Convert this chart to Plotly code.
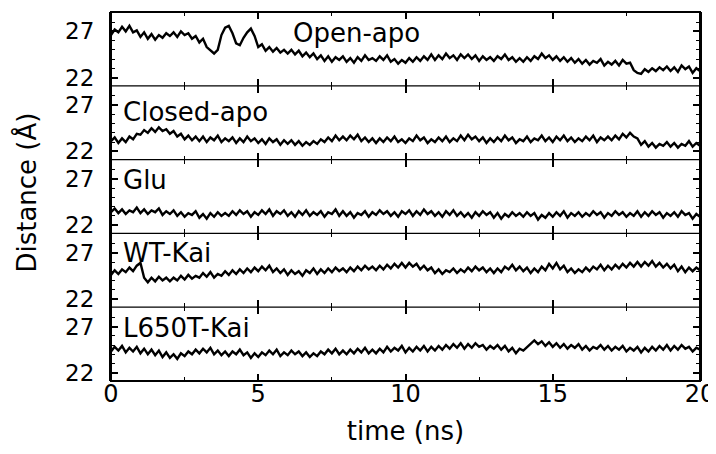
import plotly.graph_objects as go
from plotly.subplots import make_subplots

# sampling grid (ns), 0.125 ns steps
time_ns = [i * 0.125 for i in range(161)]

panel_names = ["Open-apo", "Closed-apo", "Glu", "WT-Kai", "L650T-Kai"]

open_apo = [
    26.6, 27.2, 26.9, 27.5, 27.0, 27.6, 26.9, 27.1,
    26.4, 26.9, 26.2, 26.7, 26.1, 26.6, 26.3, 26.8,
    26.5, 26.9, 26.4, 27.0, 26.6, 26.8, 26.2, 26.5,
    25.8, 26.2, 25.3, 25.0, 24.6, 25.0, 26.6, 27.4,
    27.6, 26.8, 25.7, 25.5, 26.3, 26.9, 27.3, 26.5,
    25.3, 25.6, 24.9, 25.3, 24.8, 25.2, 24.7, 25.0,
    24.6, 25.0, 24.5, 24.9, 24.3, 24.7, 24.2, 24.6,
    24.0, 24.4, 23.8, 24.3, 23.7, 24.2, 23.9, 24.3,
    23.7, 24.1, 23.6, 24.2, 23.8, 24.4, 23.9, 24.1,
    23.8, 24.3, 23.9, 24.4, 23.7, 24.0, 23.5, 23.9,
    23.6, 24.1, 23.7, 24.2, 23.8, 24.3, 23.9, 24.5,
    23.9, 24.4, 24.0, 24.6, 24.1, 24.4, 23.9, 24.5,
    24.1, 24.5, 24.0, 24.4, 23.8, 24.3, 23.9, 24.2,
    23.8, 24.3, 24.0, 24.5, 23.9, 24.2, 23.7, 24.1,
    23.7, 24.2, 23.8, 24.3, 24.0, 24.6, 24.1, 24.4,
    23.9, 24.3, 23.8, 24.2, 23.7, 24.1, 23.6, 24.0,
    23.5, 23.9, 23.4, 23.8, 23.6, 24.0, 23.3, 23.7,
    23.4, 23.8, 23.3, 23.9, 23.5, 23.6, 22.8, 22.5,
    22.4, 22.9, 22.6, 23.0, 22.7, 23.1, 22.8, 23.2,
    22.7, 23.1, 22.6, 23.3, 22.9, 23.2, 22.5, 23.0,
    22.7,
]

closed_apo = [
    23.1, 23.5, 22.9, 23.4, 23.0, 23.6, 23.3, 23.9,
    23.8, 24.3, 24.0, 24.5, 24.1, 24.6, 24.2, 24.4,
    23.9, 24.2, 23.6, 23.9, 23.3, 23.7, 23.2, 23.6,
    23.1, 23.6, 23.0, 23.5, 23.2, 23.7, 23.0, 23.4,
    23.1, 23.5, 22.9, 23.4, 23.0, 23.6, 23.1, 23.4,
    22.9, 23.3, 22.8, 23.4, 23.0, 23.3, 22.7, 23.2,
    22.8, 23.2, 22.7, 23.1, 22.6, 23.0, 22.7, 23.1,
    22.8, 23.3, 23.0, 23.5, 23.1, 23.7, 23.2, 23.6,
    23.2, 23.7, 23.3, 23.8, 23.1, 23.5, 23.0, 23.4,
    22.9, 23.4, 23.0, 23.5, 23.1, 23.6, 23.0, 23.3,
    22.9, 23.4, 23.1, 23.7, 23.2, 23.5, 22.9, 23.3,
    23.0, 23.5, 23.1, 23.6, 23.0, 23.4, 23.1, 23.7,
    23.2, 23.8, 23.3, 23.6, 23.1, 23.5, 22.9, 23.4,
    23.0, 23.5, 23.1, 23.7, 23.2, 23.5, 22.9, 23.3,
    23.1, 23.6, 23.0, 23.4, 23.2, 23.7, 23.1, 23.5,
    23.0, 23.6, 23.2, 23.7, 23.1, 23.5, 23.0, 23.4,
    23.1, 23.6, 23.2, 23.7, 23.0, 23.5, 23.2, 23.6,
    23.2, 23.7, 23.3, 23.9, 23.5, 24.0, 23.6, 23.4,
    22.7, 23.1, 22.5, 22.9, 22.4, 22.8, 22.6, 23.0,
    22.5, 22.9, 22.4, 22.8, 22.6, 23.1, 22.5, 22.9,
    22.6,
]

glu = [
    23.4, 23.8, 23.3, 23.7, 23.2, 23.6, 23.4, 23.9,
    23.3, 23.7, 23.2, 23.6, 23.4, 23.8, 23.1, 23.5,
    23.2, 23.6, 23.0, 23.4, 22.9, 23.3, 23.1, 23.5,
    22.8, 23.2, 22.7, 23.3, 22.9, 23.4, 23.0, 23.3,
    23.0, 23.5, 23.1, 23.6, 23.2, 23.5, 22.9, 23.4,
    23.1, 23.6, 23.2, 23.7, 23.0, 23.5, 23.2, 23.6,
    23.0, 23.4, 22.9, 23.5, 23.1, 23.6, 23.0, 23.4,
    23.1, 23.5, 22.9, 23.4, 23.2, 23.7, 23.0, 23.5,
    23.0, 23.4, 22.8, 23.3, 23.1, 23.5, 22.9, 23.4,
    23.1, 23.6, 23.2, 23.5, 23.0, 23.4, 22.9, 23.5,
    23.2, 23.6, 23.0, 23.5, 23.1, 23.7, 23.2, 23.5,
    23.0, 23.4, 22.9, 23.5, 23.1, 23.6, 23.0, 23.4,
    22.9, 23.3, 22.8, 23.4, 23.0, 23.5, 23.1, 23.4,
    22.8, 23.3, 22.7, 23.2, 22.9, 23.4, 23.0, 23.3,
    22.9, 23.4, 23.0, 23.3, 22.6, 23.1, 22.8, 23.3,
    22.9, 23.4, 23.0, 23.5, 22.8, 23.3, 23.0, 23.4,
    22.9, 23.3, 23.0, 23.5, 23.1, 23.4, 22.8, 23.3,
    23.0, 23.5, 23.1, 23.4, 22.9, 23.3, 23.0, 23.5,
    22.9, 23.4, 23.0, 23.5, 23.1, 23.4, 22.8, 23.3,
    23.0, 23.4, 22.9, 23.5, 23.1, 23.3, 22.7, 23.2,
    22.9,
]

wt_kai = [
    24.6, 25.1, 24.7, 25.2, 24.9, 25.4, 25.0, 25.6,
    25.9, 24.3, 23.8, 24.3, 23.9, 24.4, 24.0, 24.3,
    23.9, 24.3, 24.0, 24.5, 24.1, 24.6, 24.2, 24.5,
    24.3, 24.8, 24.4, 24.9, 24.3, 24.7, 24.5, 25.0,
    24.6, 25.1, 24.7, 25.2, 24.8, 25.3, 24.9, 25.4,
    25.0, 25.5, 25.1, 25.6, 24.9, 25.3, 24.8, 25.2,
    24.6, 25.1, 24.7, 25.0, 24.5, 25.1, 24.8, 25.3,
    24.7, 25.2, 24.8, 25.3, 24.9, 25.4, 25.0, 25.3,
    24.9, 25.4, 25.0, 25.5, 25.1, 25.6, 25.2, 25.5,
    25.1, 25.6, 25.2, 25.7, 25.3, 25.8, 25.4, 25.9,
    25.4, 25.9, 25.5, 25.8, 25.2, 25.6, 25.1, 25.4,
    24.8, 25.2, 24.7, 25.1, 24.9, 25.3, 24.8, 25.2,
    24.9, 25.4, 25.0, 25.5, 25.1, 25.4, 24.9, 25.3,
    24.8, 25.3, 24.9, 25.5, 25.2, 25.7, 25.1, 25.5,
    25.0, 25.4, 24.8, 25.3, 24.9, 25.5, 25.1, 25.8,
    25.3, 25.9, 25.2, 25.6, 24.9, 25.3, 24.8, 25.2,
    24.9, 25.4, 25.0, 25.5, 25.2, 25.7, 25.1, 25.6,
    25.2, 25.7, 25.3, 25.8, 25.4, 25.9, 25.5, 26.0,
    25.5, 26.0, 25.6, 26.1, 25.5, 25.9, 25.4, 25.8,
    25.3, 25.7, 25.0, 25.5, 24.9, 25.4, 25.0, 25.4,
    25.1,
]

l650t_kai = [
    24.3, 24.8, 24.4, 24.9, 24.2, 24.7, 24.3, 24.8,
    24.1, 24.6, 24.0, 24.5, 23.9, 24.4, 23.7, 24.2,
    23.6, 24.0, 23.5, 24.1, 23.8, 24.3, 24.0, 24.5,
    24.1, 24.6, 24.2, 24.7, 24.0, 24.4, 23.9, 24.3,
    23.8, 24.3, 24.0, 24.5, 23.9, 24.2, 23.6, 24.1,
    23.7, 24.2, 23.9, 24.4, 24.0, 24.5, 23.8, 24.2,
    23.9, 24.4, 24.0, 24.3, 23.8, 24.2, 23.7, 24.1,
    23.8, 24.3, 24.0, 24.5, 24.1, 24.6, 24.0, 24.4,
    24.0, 24.5, 24.1, 24.6, 24.2, 24.7, 24.1, 24.5,
    24.1, 24.6, 24.2, 24.8, 24.3, 24.7, 24.4, 24.9,
    24.2, 24.7, 24.3, 24.8, 24.4, 24.9, 24.3, 24.8,
    24.4, 24.9, 24.5, 25.0, 24.6, 25.1, 24.7, 25.2,
    24.6, 25.1, 24.7, 25.2, 24.8, 25.0, 24.5, 24.9,
    24.6, 25.0, 24.5, 24.9, 24.3, 24.7, 24.1, 24.6,
    24.4, 24.8, 25.1, 25.5, 25.1, 25.4, 24.9, 25.3,
    24.8, 25.2, 24.7, 25.1, 24.6, 25.0, 24.7, 25.1,
    24.5, 24.9, 24.4, 24.8, 24.6, 25.0, 24.5, 24.9,
    24.4, 24.8, 24.5, 24.9, 24.3, 24.7, 24.4, 24.8,
    24.2, 24.7, 24.3, 24.8, 24.4, 24.9, 24.5, 25.0,
    24.4, 24.9, 24.5, 25.0, 24.6, 24.8, 24.3, 24.7,
    24.5,
]

series = [open_apo, closed_apo, glu, wt_kai, l650t_kai]

y_tick_vals = [22, 27]
x_tick_vals = [0, 5, 10, 15, 20]

FONT = "DejaVu Sans"
FS = 26
FS_Y = 23
FS_X = 24

fig = make_subplots(rows=5, cols=1, shared_xaxes=True, vertical_spacing=0)

for i, ys in enumerate(series):
    fig.add_trace(
        go.Scatter(x=time_ns, y=ys, mode="lines",
                   line=dict(color="black", width=2.4), showlegend=False),
        row=i + 1, col=1)

label_pos = [(6.1, 26.85), (0.35, 26.3), (0.35, 26.85), (0.35, 26.95), (0.35, 26.85)]
for i, name in enumerate(panel_names):
    xa = "x" if i == 0 else f"x{i+1}"
    ya = "y" if i == 0 else f"y{i+1}"
    fig.add_annotation(x=label_pos[i][0], y=label_pos[i][1], xref=xa, yref=ya,
                       text=name, showarrow=False, xanchor="left", yanchor="middle",
                       font=dict(family=FONT, size=FS, color="black"))

for i in range(5):
    fig.update_yaxes(range=[21.1, 29.1], tickvals=y_tick_vals,
                     ticktext=[str(v) for v in y_tick_vals],
                     ticks="inside", ticklen=7, tickwidth=1.5, tickcolor="black",
                     minor=dict(dtick=1, ticks="inside", ticklen=4, tickwidth=1, tickcolor="black"),
                     showline=True, linecolor="black", linewidth=2, mirror="ticks",
                     showgrid=False, zeroline=False, ticklabelstandoff=10,
                     automargin=False,
                     tickfont=dict(family=FONT, size=FS_Y, color="black"),
                     row=i + 1, col=1)
    fig.update_xaxes(range=[0, 20], tickvals=x_tick_vals,
                     ticks="inside", ticklen=7, tickwidth=1.5, tickcolor="black",
                     minor=dict(tickvals=[2.5, 7.5, 12.5, 17.5], ticks="inside", ticklen=4,
                                tickwidth=1, tickcolor="black"),
                     showline=False, mirror="ticks",
                     showgrid=False, zeroline=False, automargin=False,
                     showticklabels=(i == 4), ticklabelstandoff=-4,
                     ticklabeloverflow="allow",
                     tickfont=dict(family=FONT, size=FS_X, color="black"),
                     row=i + 1, col=1)

fig.update_xaxes(title=dict(text="time (ns)", font=dict(family=FONT, size=FS, color="black"),
                            standoff=16), row=5, col=1)

# frame: outer box and single separators between panels
fig.add_shape(type="rect", xref="paper", yref="paper", x0=0, x1=1, y0=0, y1=1,
              line=dict(color="black", width=2))
for k in range(1, 5):
    fig.add_shape(type="line", xref="paper", yref="paper", x0=0, x1=1, y0=k / 5, y1=k / 5,
                  line=dict(color="black", width=1.2))

fig.add_annotation(x=-0.143, xref="paper", y=0.51, yref="paper", xanchor="center",
                   yanchor="middle",
                   text="Distance (Å)", textangle=-90, showarrow=False,
                   font=dict(family=FONT, size=FS, color="black"))

# the page body adds an 8px offset; size the figure so the page does not scroll
fig.update_layout(width=708, height=438, margin=dict(l=103, r=16, t=4, b=65),
                  plot_bgcolor="white", paper_bgcolor="white",
                  font=dict(family=FONT, size=FS, color="black"))

fig.write_html("out.html")
